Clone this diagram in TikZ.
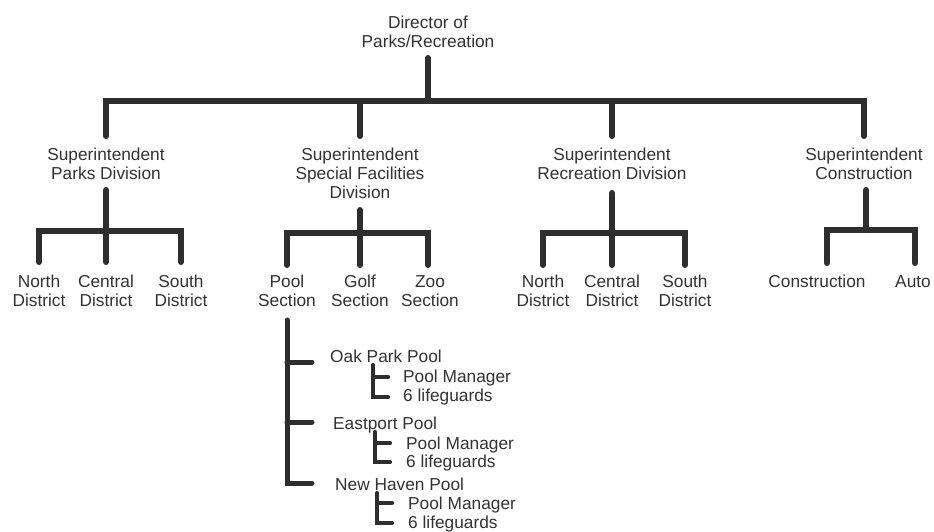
\documentclass[tikz,border=0pt]{standalone}
\usepackage{fontspec}
\setmainfont{Liberation Sans}
\definecolor{ink}{HTML}{2E2E2E}
\definecolor{txt}{HTML}{333333}
\begin{document}
\begin{tikzpicture}[x=1pt,y=-1pt,
  lbl/.style={font=\fontsize{17.3}{19}\selectfont, inner sep=0pt, align=center, text=txt, anchor=north},
  leaf/.style={font=\fontsize{17.3}{19}\selectfont, inner sep=0pt, text=txt, anchor=base west},
  trunk/.style={draw=ink, line width=6pt, line cap=round},
  branch/.style={draw=ink, line width=5pt, line cap=round},
  twig/.style={draw=ink, line width=4.2pt, line cap=round}]
\useasboundingbox[fill=white] (0,0) rectangle (934,531);

% director and superintendents
\node[lbl] (dir) at (428,16) {Director of\\Parks/Recreation};
\node[lbl] (sp) at (106,148) {Superintendent\\Parks Division};
\node[lbl] (ss) at (360,148) {Superintendent\\Special Facilities\\Division};
\node[lbl] (sr) at (612,148) {Superintendent\\Recreation Division};
\node[lbl] (sc) at (864,148) {Superintendent\\Construction};

% parks districts
\node[lbl] (pn) at (39,275) {North\\District};
\node[lbl] (pc) at (106,275) {Central\\District};
\node[lbl] (ps) at (181,275) {South\\District};

% special facilities sections
\node[lbl] (pool) at (287,275) {Pool\\Section};
\node[lbl] (golf) at (360,275) {Golf\\Section};
\node[lbl] (zoo) at (430,275) {Zoo\\Section};

% recreation districts
\node[lbl] (rn) at (543,275) {North\\District};
\node[lbl] (rc) at (612,275) {Central\\District};
\node[lbl] (rs) at (685,275) {South\\District};

% construction units
\node[lbl] (con) at (817,275) {Construction};
\node[lbl] (auto) at (913,275) {Auto};

% pools and their staff
\node[leaf] (oak) at (330,362) {Oak Park Pool};
\node[leaf] (pm1) at (403,382.5) {Pool Manager};
\node[leaf] (lg1) at (403,401.5) {6 lifeguards};
\node[leaf] (east) at (333,429) {Eastport Pool};
\node[leaf] (pm2) at (406,449) {Pool Manager};
\node[leaf] (lg2) at (406,467.5) {6 lifeguards};
\node[leaf] (nh) at (335,490) {New Haven Pool};
\node[leaf] (pm3) at (408,509) {Pool Manager};
\node[leaf] (lg3) at (408,528) {6 lifeguards};

% top level
\coordinate (bar) at (428,101);
\draw[trunk] (dir.south |- 0,58) -- (bar);
\draw[trunk] (sp.north |- 0,136) -- (sp.north |- bar) -- (sc.north |- bar) -- (sc.north |- 0,136);
\draw[trunk] (ss.north |- bar) -- (ss.north |- 0,136);
\draw[trunk] (sr.north |- bar) -- (sr.north |- 0,136);

% parks division
\draw[trunk] (sp.south |- 0,190) -- (pc.north |- 0,262);
\draw[trunk] (pn.north |- 0,262) -- (pn.north |- 0,231) -- (ps.north |- 0,231) -- (ps.north |- 0,262);

% special facilities division
\draw[trunk] (ss.south |- 0,210) -- (golf.north |- 0,265);
\draw[trunk] (pool.north |- 0,265) -- (pool.north |- 0,233) -- ([xshift=-2pt]zoo.north |- 0,233) -- ([xshift=-2pt]zoo.north |- 0,265);

% recreation division
\draw[trunk] (sr.south |- 0,193) -- (rc.north |- 0,265);
\draw[trunk] (rn.north |- 0,265) -- (rn.north |- 0,233) -- (rs.north |- 0,233) -- (rs.north |- 0,265);

% construction
\coordinate (cj) at (866,230);
\draw[trunk] (cj |- 0,190) -- (cj);
\draw[trunk] ([xshift=10pt]con.north |- 0,263) -- ([xshift=10pt]con.north |- cj) -- ([xshift=2pt]auto.north |- cj) -- ([xshift=2pt]auto.north |- 0,263);

% pool section bracket
\coordinate (p1) at (312,362);
\coordinate (p2) at (312,422);
\coordinate (p3) at (312,483);
\draw[branch] (pool.south |- 0,320) -- (pool.south |- p3) -- (p3);
\draw[branch] (pool.south |- p1) -- (p1);
\draw[branch] (pool.south |- p2) -- (p2);

% staff brackets
\coordinate (a1) at (373,365); \coordinate (b1) at (388,377); \coordinate (c1) at (388,397);
\draw[twig] (a1) -- (a1 |- c1) -- (c1);
\draw[twig] (a1 |- b1) -- (b1);
\coordinate (a2) at (375,432); \coordinate (b2) at (390,443); \coordinate (c2) at (390,462);
\draw[twig] (a2) -- (a2 |- c2) -- (c2);
\draw[twig] (a2 |- b2) -- (b2);
\coordinate (a3) at (377,493); \coordinate (b3) at (392,503); \coordinate (c3) at (392,523);
\draw[twig] (a3) -- (a3 |- c3) -- (c3);
\draw[twig] (a3 |- b3) -- (b3);
\end{tikzpicture}
\end{document}
